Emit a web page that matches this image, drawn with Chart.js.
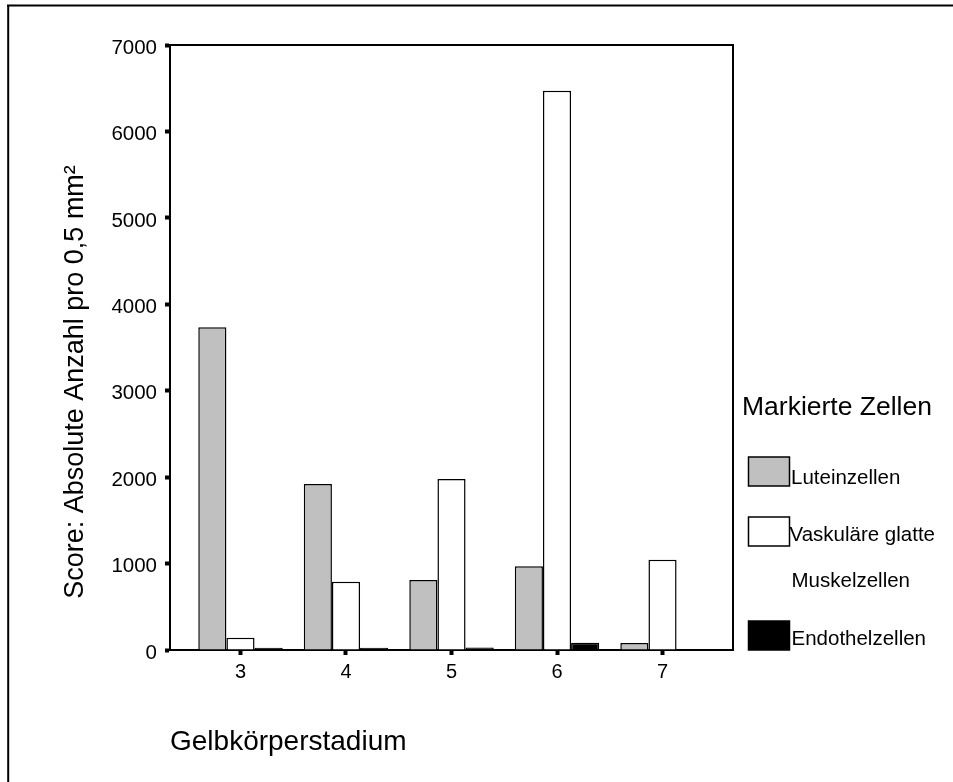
<!DOCTYPE html>
<html><head><meta charset="utf-8">
<script src="https://cdn.jsdelivr.net/npm/chart.js@4/dist/chart.umd.min.js"></script>
<style>html,body{margin:0;padding:0;background:#fff}#wrap{width:953px;height:782px;position:relative}canvas{display:block}</style>
</head><body><div id="wrap"><canvas id="c" width="953" height="782"></canvas></div>
<script>
const categories = [3, 4, 5, 6, 7];
const seriesNames = ['Luteinzellen', 'Vaskuläre glatte Muskelzellen', 'Endothelzellen'];
const legendLines = [['Luteinzellen'], ['Vaskuläre glatte', 'Muskelzellen'], ['Endothelzellen']];
const luteinzellen = [3735, 1920, 810, 970, 80];
const muskelzellen = [142, 790, 1978, 6470, 1045];
const endothelzellen = [25, 25, 30, 84, 0];
const yTicks = [0, 1000, 2000, 3000, 4000, 5000, 6000, 7000];
const xTitle = 'Gelbkörperstadium';
const yTitle = 'Score: Absolute Anzahl pro 0,5 mm²';
const legendTitle = 'Markierte Zellen';

const FONT = '"Liberation Sans", Arial, sans-serif';
const colors = ['#c0c0c0', '#ffffff', '#000000'];
const seriesData = [luteinzellen, muskelzellen, endothelzellen];

const datasets = seriesData.map((arr, i) => ({
  label: seriesNames[i],
  data: categories.map((c, j) => ({x: c, y: arr[j]})),
  backgroundColor: colors[i],
  borderColor: '#000',
  borderWidth: 1.5,
  categoryPercentage: 0.8,
  barPercentage: 1.0
}));

const decor = {
  id: 'decor',
  afterDraw(chart) {
    const ctx = chart.ctx;
    const a = chart.chartArea;
    ctx.save();
    ctx.strokeStyle = '#000';
    // outer frame (top and left only)
    ctx.lineWidth = 2;
    ctx.beginPath();
    ctx.moveTo(7, 5.5); ctx.lineTo(953, 5.5);
    ctx.moveTo(8.2, 5); ctx.lineTo(8.2, 782);
    ctx.stroke();
    // plot frame top & right
    ctx.lineWidth = 2;
    ctx.beginPath();
    ctx.moveTo(a.left, a.top); ctx.lineTo(a.right, a.top); ctx.lineTo(a.right, a.bottom);
    ctx.stroke();
    ctx.fillStyle = '#000';
    // y title
    ctx.save();
    ctx.translate(83, 382);
    ctx.rotate(-Math.PI / 2);
    ctx.font = '27px ' + FONT;
    ctx.textAlign = 'center';
    ctx.textBaseline = 'alphabetic';
    ctx.fillText(yTitle, 0, 0);
    ctx.restore();
    // x title
    ctx.font = '28px ' + FONT;
    ctx.textAlign = 'left';
    ctx.textBaseline = 'alphabetic';
    ctx.fillText(xTitle, 170, 750);
    // legend title
    ctx.font = '26.5px ' + FONT;
    ctx.fillText(legendTitle, 742, 415);
    // legend items
    const boxTops = [457, 517, 621];
    const lineYs = [[483.5], [540.5, 586.5], [645]];
    const textX = [791, 789.5, 791.5];
    ctx.font = '20.5px ' + FONT;
    chart.data.datasets.forEach((ds, i) => {
      ctx.fillStyle = ds.backgroundColor;
      ctx.fillRect(748.5, boxTops[i], 41, 29);
      ctx.lineWidth = 1.5;
      ctx.strokeStyle = '#000';
      ctx.strokeRect(748.5, boxTops[i], 41, 29);
      ctx.fillStyle = '#000';
      legendLines[i].forEach((t, k) => {
        ctx.fillText(t, k === 0 ? textX[i] : 791.5, lineYs[i][k]);
      });
    });
    ctx.restore();
  }
};

new Chart(document.getElementById('c'), {
  type: 'bar',
  data: { datasets },
  options: {
    responsive: false,
    animation: false,
    layout: { padding: { left: 0, top: 45, right: 220, bottom: 0 } },
    plugins: { legend: { display: false }, tooltip: { enabled: false } },
    scales: {
      x: {
        type: 'linear',
        min: 2.332,
        max: 7.668,
        offset: false,
        grid: { display: true, drawOnChartArea: false, offset: false, tickLength: 5, tickWidth: 4, tickColor: '#000' },
        border: { display: true, color: '#000', width: 2 },
        ticks: { color: '#000', font: { family: FONT, size: 20 }, padding: 5, callback: v => String(v) },
        afterBuildTicks: s => { s.ticks = categories.map(v => ({ value: v })); },
        afterFit: s => { s.height = 132; }
      },
      y: {
        min: 0,
        max: 7000,
        grid: { display: true, drawOnChartArea: false, tickLength: 5, tickWidth: 4, tickColor: '#000' },
        border: { display: true, color: '#000', width: 2 },
        ticks: { color: '#000', font: { family: FONT, size: 20.5 }, padding: 8, labelOffset: 3, callback: v => String(v) },
        afterBuildTicks: s => { s.ticks = yTicks.map(v => ({ value: v })); },
        afterFit: s => { s.width = 170; }
      }
    }
  },
  plugins: [decor]
});
</script>
</body></html>
